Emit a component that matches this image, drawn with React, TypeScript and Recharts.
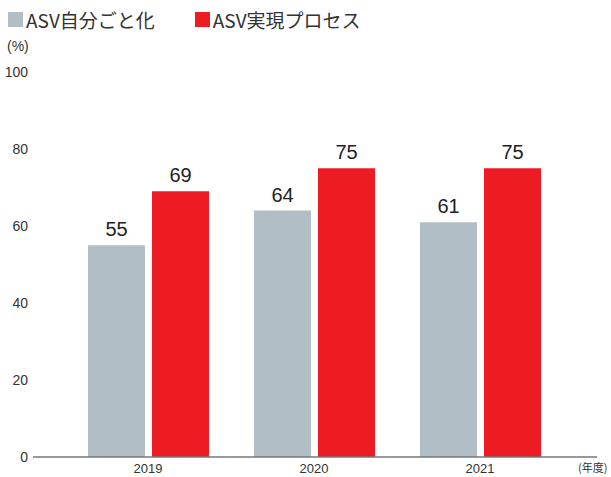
import { BarChart, Bar, XAxis, YAxis, LabelList } from "recharts";

const years = ["2019", "2020", "2021"];
const selfValues = [55, 64, 61];
const processValues = [69, 75, 75];
const yTicks = [0, 20, 40, 60, 80, 100];
const seriesNames = ["ASV自分ごと化", "ASV実現プロセス"];

const GRAY = "#b1bec5";
const RED = "#ed1c24";
const FONT = "'Liberation Sans', 'Noto Sans CJK JP', sans-serif";

const data = years.map((y, i) => ({ year: y, self: selfValues[i], process: processValues[i] }));

const App = () => {
  return <div style={{ position: "absolute", left: 0, top: 0, width: 611, height: 477, background: "#fff", fontFamily: FONT, color: "#333" }}>
      <div style={{ position: "absolute", left: 8, top: 6, display: "flex", alignItems: "center", fontSize: 19, color: "#333" }}>
        <span style={{ display: "inline-block", width: 15, height: 15, background: GRAY, marginRight: 3 }} />
        <span style={{ fontFamily: "'Noto Sans CJK JP', sans-serif" }}>{seriesNames[0]}</span>
        <span style={{ display: "inline-block", width: 15, height: 15, background: RED, marginLeft: 40, marginRight: 3 }} />
        <span style={{ fontFamily: "'Noto Sans CJK JP', sans-serif" }}>{seriesNames[1]}</span>
      </div>
      <div style={{ position: "absolute", left: 7, top: 38, fontSize: 14, color: "#333" }}>(%)</div>
      <div style={{ position: "absolute", left: 578, top: 459, fontSize: 11, color: "#333", fontFamily: "'Noto Sans CJK JP', sans-serif" }}>(年度)</div>
      <BarChart width={611} height={477} data={data} margin={{ top: 72, right: 14, bottom: -10, left: 0 }} barGap={7} barSize={57}>
        <XAxis dataKey="year" height={30} padding={{ left: 32, right: 34 }} tickLine={false} axisLine={{ stroke: "#777", strokeWidth: 1.5 }} tick={{ fill: "#333", fontSize: 13, fontFamily: FONT }} tickMargin={1} />
        <YAxis width={33} domain={[0, 100]} ticks={yTicks} axisLine={false} tickLine={false} tickSize={0} tickMargin={5} tick={{ fill: "#333", fontSize: 14, fontFamily: FONT }} />
        <Bar dataKey="self" fill={GRAY} isAnimationActive={false}>
          <LabelList dataKey="self" position="top" offset={9} style={{ fill: "#222", fontSize: 20, fontFamily: FONT }} />
        </Bar>
        <Bar dataKey="process" fill={RED} isAnimationActive={false}>
          <LabelList dataKey="process" position="top" offset={9} style={{ fill: "#222", fontSize: 20, fontFamily: FONT }} />
        </Bar>
      </BarChart>
    </div>;
};

export default App;
